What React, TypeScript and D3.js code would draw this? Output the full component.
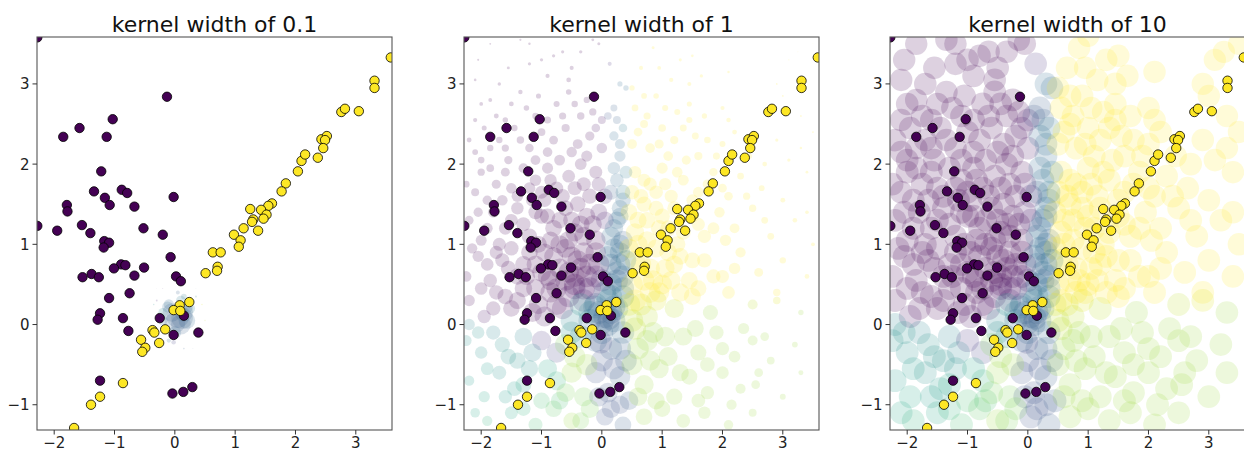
import * as d3 from "d3";

// three LIME-style panels: same perturbed samples, sized by kernel weight
const kernelWidths = [0.1, 1, 10];
const xTicks = [-2, -1, 0, 1, 2, 3];
const yTicks = [-1, 0, 1, 2, 3];
const instance = [0.05, 0.08];
const featureScale = [1.35, 1.2];

// training points, label 0
const class0: [number, number][] = [
  [-2.28, 3.58], [-0.13, 2.84], [-1.03, 2.56], [-1.58, 2.45], [-1.85, 2.34], [-1.13, 2.34],
  [-1.22, 1.91], [-1.34, 1.66], [-0.88, 1.68], [-0.79, 1.64], [-1.16, 1.58], [-1.08, 1.49],
  [-1.79, 1.49], [-1.78, 1.41], [-0.67, 1.47], [-0.02, 1.59], [-1.54, 1.24], [-0.52, 1.2],
  [-2.28, 1.23], [-1.95, 1.17], [-1.4, 1.14], [-0.2, 1.12], [-1.17, 1.04], [-1.09, 1.02],
  [-1.18, 0.96], [-0.07, 0.84], [-0.89, 0.75], [-0.82, 0.74], [-1.01, 0.7], [-0.51, 0.71],
  [-0.67, 0.61], [-1.38, 0.63], [-1.53, 0.59], [-1.26, 0.59], [0.02, 0.6], [0.1, 0.54],
  [-0.75, 0.39], [-1.09, 0.33], [-1.24, 0.14], [-1.28, 0.06], [-0.86, 0.08], [-0.25, 0.08],
  [0.15, 0.11], [-0.77, -0.08], [-0.02, -0.13], [0.39, -0.1], [-1.24, -0.7], [-0.04, -0.86],
  [0.14, -0.84], [0.29, -0.78],
];

// training points, label 1
const class1: [number, number][] = [
  [3.58, 3.33], [3.31, 3.04], [3.31, 2.95], [2.76, 2.65], [2.82, 2.69], [3.05, 2.66],
  [2.43, 2.31], [2.52, 2.35], [2.49, 2.3], [2.46, 2.2], [2.37, 2.08], [2.1, 2.04],
  [2.16, 2.12], [2.04, 1.91], [1.84, 1.76], [1.77, 1.66], [1.61, 1.51], [1.55, 1.48],
  [1.25, 1.44], [1.43, 1.43], [1.52, 1.37], [1.47, 1.32], [1.3, 1.31], [1.28, 1.28],
  [1.14, 1.2], [0.98, 1.12], [1.09, 1.05], [1.06, 0.97], [1.38, 1.17], [0.63, 0.9],
  [0.76, 0.9], [0.71, 0.72], [0.7, 0.67], [0.51, 0.64], [0.24, 0.28], [0.08, 0.24],
  [-0.02, 0.18], [0.09, 0.17], [-0.16, -0.06], [-0.37, -0.07], [-0.34, -0.1], [-0.56, -0.19],
  [-0.49, -0.29], [-0.54, -0.34], [-0.26, -0.23], [-0.86, -0.73], [-1.24, -0.9], [-1.39, -1.0],
  [-1.67, -1.29],
];

// perturbed samples: x, y, predicted probability
const samples: [number, number, number][] = [
  // y above 3
  [-2.05, 3.3, 0], [-2.1, 3.05, 0], [-1.55, 3.2, 0], [-1.7, 3.0, 0], [-1.35, 3.55, 0], [-1.2, 3.5, 0],
  [-1.2, 3.25, 0], [-0.8, 3.35, 0], [-0.65, 3.4, 0], [-0.35, 3.4, 0], [-0.15, 3.55, 0], [-0.05, 3.5, 0],
  [0.13, 3.25, 0.15], [-0.9, 3.1, 0], [-0.55, 3.05, 0], [0.3, 3.0, 0.35], [0.4, 2.95, 0.35], [0.65, 3.2, 1],
  [0.85, 3.45, 1], [1.0, 3.6, 1], [1.3, 3.3, 1], [1.5, 3.35, 1], [1.45, 3.0, 1], [2.9, 3.0, 1],
  [3.1, 3.3, 1], [3.25, 3.4, 1], [3.5, 3.5, 1], [2.1, 3.15, 1],
  [-0.5, 3.2, 0], [-1.0, 3.3, 0], [-1.85, 3.5, 0], [0.5, 2.95, 1], [0.7, 2.85, 1], [1.15, 3.05, 1],
  [0.95, 3.2, 1], [1.65, 3.1, 1],
  // 2.5 .. 3
  [-2.0, 2.75, 0], [-1.75, 2.6, 0], [-1.5, 2.75, 0], [-1.25, 2.7, 0], [-1.05, 2.85, 0], [-0.75, 2.75, 0],
  [-0.55, 2.9, 0], [-0.35, 2.6, 0], [-0.25, 2.8, 0], [0.0, 2.55, 0.05], [0.1, 2.6, 0.25], [0.25, 2.55, 0.3],
  [0.55, 2.7, 1], [0.75, 2.6, 1], [0.9, 2.85, 1], [1.05, 2.7, 1], [1.25, 2.65, 1], [1.45, 2.75, 1],
  [1.7, 2.6, 1], [2.0, 2.7, 1], [2.1, 2.55, 1], [3.0, 2.85, 1], [3.3, 2.6, 1],
  [-2.1, 2.55, 0], [-1.85, 2.8, 0], [-1.6, 2.55, 0], [-1.35, 2.9, 0], [-1.1, 2.6, 0], [-0.9, 2.55, 0],
  [-0.65, 2.6, 0], [-0.45, 2.75, 0], [-0.15, 2.65, 0], [0.2, 2.7, 0.3], [1.45, 2.55, 1],
  // 2 .. 2.5
  [-2.2, 2.3, 0], [-1.95, 2.45, 0], [-1.7, 2.3, 0], [-1.45, 2.45, 0], [-1.2, 2.2, 0], [-1.0, 2.4, 0],
  [-0.8, 2.3, 0], [-0.6, 2.45, 0], [-0.4, 2.25, 0], [-0.2, 2.35, 0], [0.0, 2.2, 0.05], [-2.0, 2.05, 0],
  [-1.55, 2.05, 0], [-0.7, 2.05, 0], [-0.35, 2.0, 0], [0.2, 2.35, 0.35], [0.3, 2.1, 0.35], [0.35, 2.45, 0.4],
  [0.6, 2.4, 1], [0.8, 2.2, 1], [1.0, 2.45, 1], [1.2, 2.3, 1], [1.4, 2.05, 1], [1.55, 2.35, 1],
  [1.75, 2.3, 1], [1.9, 2.1, 1], [2.2, 2.4, 1], [2.45, 2.1, 1], [2.9, 2.3, 1], [3.3, 2.2, 1], [3.5, 2.4, 1],
  [-2.1, 2.15, 0], [-1.85, 2.2, 0], [-1.6, 2.2, 0], [-1.35, 2.3, 0], [-1.1, 2.05, 0], [-0.9, 2.15, 0],
  [-0.5, 2.15, 0], [-0.25, 2.1, 0], [-0.1, 2.45, 0.05], [0.3, 2.25, 0.35],
  [0.5, 2.25, 1], [0.7, 2.5, 1], [0.95, 2.25, 1], [1.1, 2.1, 1], [1.35, 2.45, 1], [1.6, 2.1, 1], [2.0, 2.25, 1],
  [2.7, 2.0, 1], [3.1, 2.05, 1],
  // 1.5 .. 2
  [-2.25, 1.75, 0], [-2.0, 1.9, 0], [-1.85, 1.95, 0], [-1.6, 1.9, 0], [-1.5, 1.7, 0], [-1.3, 1.95, 0],
  [-1.1, 1.8, 0], [-0.9, 1.95, 0], [-0.75, 1.7, 0], [-0.55, 1.85, 0], [-0.3, 1.75, 0], [-0.1, 1.9, 0],
  [0.05, 1.6, 0.1], [-1.9, 1.55, 0], [-0.95, 1.55, 0], [0.25, 1.8, 0.35], [0.35, 1.55, 0.35], [0.15, 1.65, 0.3],
  [0.55, 1.9, 1], [0.65, 1.6, 1], [0.8, 1.75, 1], [1.0, 1.95, 1], [1.15, 1.6, 1], [1.35, 1.8, 1],
  [1.6, 1.65, 1], [1.85, 1.9, 1], [2.1, 1.6, 1], [2.3, 1.85, 1], [2.65, 1.7, 1], [3.0, 1.55, 1], [3.4, 1.9, 1],
  [-2.1, 1.65, 0], [-1.75, 1.75, 0], [-1.4, 1.6, 0], [-1.2, 1.7, 0], [-1.0, 1.65, 0], [-0.85, 1.8, 0],
  [-0.45, 1.7, 0], [-0.2, 1.6, 0], [-0.05, 1.75, 0.05], [-1.65, 1.55, 0], [0.2, 1.95, 0.35], [0.4, 1.9, 0.4],
  [0.5, 1.65, 1], [0.7, 1.8, 1], [0.9, 1.65, 1], [1.05, 1.75, 1], [1.25, 1.9, 1], [1.5, 1.55, 1],
  [1.75, 1.75, 1], [2.0, 1.7, 1], [2.4, 1.6, 1],
  // 1 .. 1.5
  [-2.2, 1.3, 0], [-2.0, 1.05, 0], [-1.8, 1.4, 0], [-1.6, 1.2, 0], [-1.4, 1.45, 0], [-1.2, 1.1, 0],
  [-1.0, 1.35, 0], [-0.8, 1.2, 0], [-0.6, 1.45, 0], [-0.45, 1.15, 0], [-0.25, 1.35, 0], [-0.1, 1.05, 0],
  [0.05, 1.3, 0.1], [-1.7, 1.0, 0], [-0.7, 1.0, 0], [0.2, 1.2, 0.35], [0.3, 1.45, 0.35], [0.35, 1.05, 0.3],
  [0.6, 1.3, 1], [0.75, 1.05, 1], [0.9, 1.45, 1], [1.1, 1.2, 1], [1.25, 1.0, 1], [1.5, 1.35, 1],
  [1.7, 1.1, 1], [1.95, 1.4, 1], [2.2, 1.2, 1], [2.5, 1.45, 1], [2.8, 1.1, 1], [3.2, 1.3, 1], [3.5, 1.0, 1],
  [-2.05, 1.4, 0], [-1.9, 1.2, 0], [-1.5, 1.3, 0], [-1.3, 1.25, 0], [-1.1, 1.4, 0], [-0.9, 1.35, 0],
  [-0.7, 1.3, 0], [-0.35, 1.25, 0], [-0.05, 1.4, 0.05], [-0.55, 1.05, 0], [-1.05, 1.0, 0],
  [0.3, 1.35, 0.35], [0.15, 1.1, 0.35], [0.3, 1.0, 0.35],
  [0.45, 1.4, 1], [0.75, 1.3, 1], [1.0, 1.35, 1], [1.35, 1.15, 1], [1.6, 1.25, 1], [1.85, 1.2, 1],
  [2.05, 1.05, 1], [2.7, 1.3, 1], [3.4, 1.4, 1],
  // 0.5 .. 1
  [-2.25, 0.6, 0], [-2.05, 0.85, 0], [-1.85, 0.55, 0], [-1.65, 0.8, 0], [-1.4, 0.6, 0], [-1.2, 0.9, 0],
  [-1.0, 0.65, 0], [-0.8, 0.85, 0], [-0.6, 0.55, 0], [-0.4, 0.8, 0], [-0.25, 0.6, 0], [-0.1, 0.9, 0],
  [0.0, 0.55, 0.1], [0.15, 0.75, 0.35], [0.3, 0.9, 0.35], [0.35, 0.6, 0.35], [0.25, 0.55, 0.3],
  [0.55, 0.8, 1], [0.7, 0.55, 1], [0.9, 0.95, 1], [1.05, 0.7, 1], [1.3, 0.85, 1], [1.45, 0.55, 1],
  [1.7, 0.8, 1], [2.0, 0.6, 1], [2.3, 0.9, 1], [2.6, 0.65, 1], [3.0, 0.8, 1], [3.4, 0.6, 1],
  [-2.15, 0.95, 0], [-1.9, 0.75, 0], [-1.75, 0.9, 0], [-1.55, 0.7, 0], [-1.1, 0.75, 0], [-0.95, 0.9, 0],
  [-0.7, 0.7, 0], [-0.5, 0.85, 0], [-0.3, 0.9, 0], [-0.05, 0.75, 0.05], [-0.45, 0.6, 0], [-1.25, 0.6, 0],
  [-0.85, 0.55, 0], [0.25, 0.65, 0.35], [0.1, 0.85, 0.35],
  [0.45, 0.95, 1], [0.65, 0.75, 1], [0.85, 0.55, 1], [1.15, 0.55, 1], [1.2, 0.75, 1], [1.5, 0.8, 1],
  [1.85, 0.6, 1], [2.2, 0.7, 1],
  // 0 .. 0.5
  [-2.2, 0.3, 0], [-1.95, 0.1, 0.05], [-1.75, 0.4, 0], [-1.5, 0.2, 0], [-1.3, 0.45, 0], [-1.05, 0.25, 0],
  [-0.85, 0.4, 0], [-0.65, 0.2, 0.05], [-0.45, 0.45, 0.05], [-0.3, 0.3, 0.1], [-2.2, 0.0, 0.45],
  [-0.1, 0.25, 0.35], [0.05, 0.4, 0.3], [0.25, 0.2, 0.4], [0.35, 0.45, 0.35], [-0.2, 0.05, 0.35],
  [0.55, 0.3, 1], [0.75, 0.1, 0.9], [0.95, 0.4, 1], [1.2, 0.2, 0.9], [1.5, 0.35, 1], [1.8, 0.15, 0.85],
  [2.1, 0.4, 1], [2.5, 0.25, 0.9], [2.9, 0.4, 1], [3.3, 0.15, 0.85],
  [-2.0, 0.45, 0], [-1.6, 0.35, 0], [-1.4, 0.3, 0], [-1.15, 0.15, 0], [-0.95, 0.1, 0.05], [-0.75, 0.25, 0],
  [-0.55, 0.35, 0.05], [-1.8, 0.2, 0], [-0.3, 0.45, 0.05], [0.35, 0.35, 0.4], [0.15, 0.35, 0.4],
  [0.45, 0.25, 0.95], [0.8, 0.4, 1], [1.3, 0.4, 1], [1.6, 0.45, 1], [2.9, 0.3, 0.95],
  // -0.5 .. 0
  [-2.25, -0.2, 0.5], [-2.0, -0.35, 0.5], [-1.8, -0.1, 0.45], [-1.55, -0.4, 0.5], [-1.3, -0.15, 0.45],
  [-1.0, -0.2, 0.15], [-0.75, -0.35, 0.2], [-0.5, -0.1, 0.5], [-0.1, -0.2, 0.35], [0.15, -0.3, 0.3],
  [0.35, -0.1, 0.35], [0.6, -0.3, 0.85], [0.85, -0.1, 0.85], [1.1, -0.4, 0.85], [1.35, -0.15, 0.85],
  [1.6, -0.35, 0.85], [1.9, -0.1, 0.85], [2.2, -0.4, 0.85], [2.5, -0.2, 0.85], [2.8, -0.45, 0.85], [3.2, -0.25, 0.85],
  [-2.05, -0.1, 0.5], [-1.65, -0.25, 0.5], [-1.4, -0.45, 0.5], [-1.15, -0.35, 0.45], [-0.35, -0.15, 0.5],
  [0.0, -0.45, 0.25], [0.4, -0.45, 0.3],
  [0.55, -0.05, 0.9], [0.8, -0.45, 0.85], [1.05, -0.15, 0.85], [1.55, -0.05, 0.85], [1.75, -0.5, 0.85],
  [2.0, -0.3, 0.85], [2.35, -0.05, 0.85], [2.7, -0.15, 0.85],
  // -1 .. -0.5
  [-2.2, -0.7, 0.55], [-1.95, -0.9, 0.6], [-1.7, -0.6, 0.5], [-1.45, -0.8, 0.55], [-1.2, -0.55, 0.5],
  [-1.0, -0.95, 0.7], [-0.75, -0.7, 0.65], [-0.5, -0.6, 0.85], [-0.3, -0.9, 0.8], [-0.1, -0.6, 0.25],
  [0.1, -0.85, 0.25], [0.3, -0.65, 0.3], [0.45, -0.95, 0.3], [0.7, -0.75, 0.85], [0.95, -0.55, 0.85],
  [1.2, -0.9, 0.85], [1.45, -0.65, 0.85], [1.75, -0.85, 0.85], [2.0, -0.6, 0.85], [2.3, -0.8, 0.85],
  [2.6, -0.6, 0.85], [3.0, -0.9, 0.85],
  [-1.9, -0.55, 0.55], [-1.6, -0.9, 0.55], [-1.3, -0.75, 0.6], [-0.9, -0.55, 0.6], [-0.7, -0.95, 0.7],
  [0.2, -0.55, 0.25], [-0.05, -0.9, 0.25], [1.3, -0.6, 0.85], [0.6, -0.9, 0.85], [0.9, -0.95, 0.85],
  [1.6, -0.95, 0.85], [2.55, -0.75, 0.85], [3.3, -0.6, 0.85], [-0.6, -0.85, 0.8],
  // below -1
  [-1.9, -1.2, 0.65], [-1.5, -1.1, 0.6], [-1.1, -1.25, 0.7], [-0.8, -1.05, 0.75], [-0.5, -1.2, 0.85],
  [-0.2, -1.05, 0.8], [0.05, -1.15, 0.25], [0.35, -1.25, 0.3], [0.7, -1.15, 0.85], [1.0, -1.05, 0.85],
  [1.35, -1.2, 0.85], [1.7, -1.1, 0.85], [2.1, -1.25, 0.85], [2.5, -1.1, 0.85],
  [-1.3, -1.05, 0.65], [-2.1, -1.1, 0.6], [0.15, -1.05, 0.25], [0.3, -1.0, 0.25], [2.15, -1.0, 0.85],
  [-0.35, -1.2, 0.8],
  // dense core
  [-0.55, 0.65, 0], [-0.45, 0.5, 0], [-0.35, 0.7, 0], [-0.2, 0.45, 0.05], [-0.6, 0.95, 0], [-0.3, 1.1, 0],
  [-0.15, 1.25, 0], [-0.5, 1.3, 0], [-0.75, 0.45, 0], [-0.9, 0.6, 0], [-1.1, 0.45, 0], [-0.85, 1.05, 0],
  [-1.3, 0.75, 0], [-1.5, 0.95, 0], [-0.4, 1.5, 0], [-0.65, 1.6, 0], [-1.15, 1.55, 0], [-0.2, 0.75, 0],
  [-0.1, 0.6, 0.05], [0.2, 0.95, 0.35], [0.3, 0.75, 0.3], [0.15, 0.5, 0.35], [0.4, 0.8, 0.4],
  [0.25, 1.3, 0.35], [0.35, 1.65, 0.4], [0.1, 0.3, 0.4], [0.2, 0.05, 0.35], [0.0, -0.1, 0.35], [0.3, -0.3, 0.3],
  [-0.35, 0.25, 0.5], [-0.2, 0.15, 0.45], [-0.5, 0.05, 0.45],
  [0.5, 0.5, 1], [0.6, 1.0, 1], [0.8, 0.7, 1], [0.7, 1.5, 1], [0.95, 1.2, 1], [1.1, 0.9, 1],
  [0.55, 1.15, 1], [0.65, 0.25, 0.95], [0.9, 0.3, 0.95], [0.5, 0.05, 0.9], [1.2, 1.45, 1], [1.0, 0.5, 1],
  [-0.45, -0.4, 0.85], [-0.25, -0.5, 0.85], [-0.6, -0.25, 0.8], [0.5, -0.5, 0.85], [0.75, -0.2, 0.85],
  // next to the explained instance
  [0.05, 0.1, 0.3], [0.1, 0.0, 0.3], [-0.05, 0.15, 0.3], [0.15, 0.15, 0.3], [0.0, 0.02, 0.3],
  [0.12, 0.08, 0.3], [-0.02, -0.22, 0.2], [-0.12, 0.22, 0.35], [0.2, 0.22, 0.35],
];

const W = 355;
const H = 393;
const panelLeft = [37, 464, 890];
const panelTop = 37;
const font = "DejaVu Sans, sans-serif";

const x = d3.scaleLinear().domain([-2.285, 3.6]).range([0, W]);
const y = d3.scaleLinear().domain([-1.315, 3.585]).range([H, 0]);
const size = d3.scaleSqrt().domain([0, 1]).range([0, 11.5]);

const kernelWeight = (s: number[], kw: number) => {
  const dx = (s[0] - instance[0]) / featureScale[0];
  const dy = (s[1] - instance[1]) / featureScale[1];
  return Math.sqrt(Math.exp(-(dx * dx + dy * dy) / (kw * kw)));
};

const fmt = (v: number) => (v < 0 ? "\u2212" + Math.abs(v) : String(v));

function Panel({ kw, i }: { kw: number; i: number }) {
  return (
    <g transform={`translate(${panelLeft[i]},${panelTop})`}>
      <defs>
        <clipPath id={`clip-${i}`}>
          <rect x={0} y={0} width={W} height={H} />
        </clipPath>
      </defs>
      <text x={W / 2} y={-5} textAnchor="middle" fontSize={22} fontFamily={font} fill="#111">
        kernel width of {kw}
      </text>
      <g clipPath={`url(#clip-${i})`}>
        {samples.map((s, j) => (
          <circle
            key={j}
            cx={x(s[0])}
            cy={y(s[1])}
            r={size(kernelWeight(s, kw))}
            fill={d3.interpolateViridis(s[2])}
            fillOpacity={0.18}
          />
        ))}
        {class0.map((p, j) => (
          <circle key={"a" + j} cx={x(p[0])} cy={y(p[1])} r={4.7}
            fill={d3.interpolateViridis(0)} stroke="#000" strokeWidth={0.8} />
        ))}
        {class1.map((p, j) => (
          <circle key={"b" + j} cx={x(p[0])} cy={y(p[1])} r={4.7}
            fill={d3.interpolateViridis(1)} stroke="#000" strokeWidth={0.8} />
        ))}
      </g>
      <rect x={0} y={0} width={W} height={H} fill="none" stroke="#555" strokeWidth={1.1} />
      {xTicks.map((t) => (
        <g key={"x" + t} transform={`translate(${x(t)},${H})`}>
          <line y2={4.5} stroke="#333" />
          <text y={17.5} textAnchor="middle" fontSize={15} fontFamily={font} fill="#222">
            {fmt(t)}
          </text>
        </g>
      ))}
      {yTicks.map((t) => (
        <g key={"y" + t} transform={`translate(0,${y(t)})`}>
          <line x2={-4.5} stroke="#333" />
          <text x={-7.5} y={5.5} textAnchor="end" fontSize={15} fontFamily={font} fill="#222">
            {fmt(t)}
          </text>
        </g>
      ))}
    </g>
  );
}

export default function App() {
  return (
    <svg
      width={1244}
      height={450}
      style={{ position: "absolute", left: 0, top: 0, background: "#fff" }}
    >
      {kernelWidths.map((kw, i) => (
        <Panel key={kw} kw={kw} i={i} />
      ))}
    </svg>
  );
}
